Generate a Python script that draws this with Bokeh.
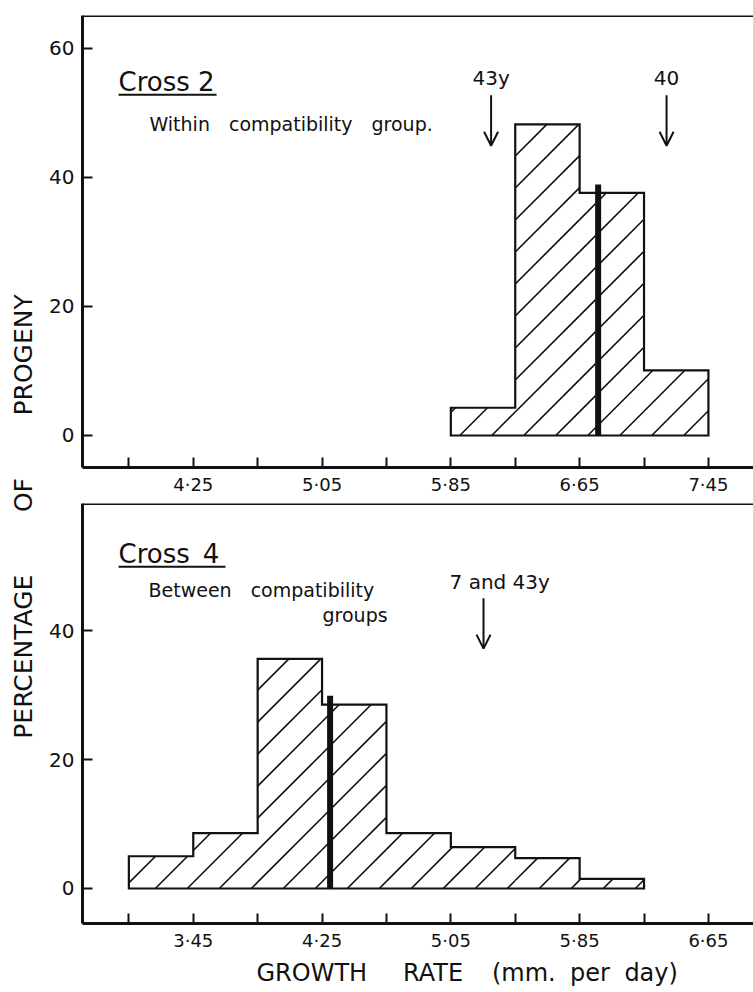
import math
from bokeh.plotting import figure
from bokeh.layouts import row, column
from bokeh.models import Range1d, FixedTicker, Span, Arrow, OpenHead, Title
from bokeh.core.properties import value
from bokeh.embed import file_html
from bokeh.resources import INLINE

FONT = "DejaVu Sans"
INK = "#111111"

# ---------------- data ----------------
# Cross 2 (within compatibility group)
cross2_edges = [5.85, 6.25, 6.65, 7.05, 7.45]
cross2_pct = [4.3, 48.2, 37.6, 10.1]
cross2_mean = 6.765
cross2_mean_top = 38.9
cross2_xticks = [4.25, 5.05, 5.85, 6.65, 7.45]
cross2_xlabels = ["4·25", "5·05", "5·85", "6·65", "7·45"]
cross2_minor = [3.85, 4.65, 5.45, 6.25, 7.05]
cross2_yticks = [0, 20, 40, 60]
cross2_arrow_x = [6.10, 7.19]
cross2_arrow_labels = ["43y", "40"]

# Cross 4 (between compatibility groups)
cross4_edges = [3.05, 3.45, 3.85, 4.25, 4.65, 5.05, 5.45, 5.85, 6.25]
cross4_pct = [5.0, 8.6, 35.6, 28.5, 8.6, 6.4, 4.7, 1.5]
cross4_mean = 4.30
cross4_mean_top = 29.9
cross4_xticks = [3.45, 4.25, 5.05, 5.85, 6.65]
cross4_xlabels = ["3·45", "4·25", "5·05", "5·85", "6·65"]
cross4_minor = [3.05, 3.85, 4.65, 5.45, 6.25]
cross4_yticks = [0, 20, 40]
cross4_arrow_x = [5.253]
cross4_arrow_labels = ["7 and 43y"]

Y_LABEL = "PERCENTAGE\u2003\u2003\u2002OF\u2003\u2003\u2002PROGENY"
X_LABEL = "GROWTH\u2003\u2002RATE\u2003\u2009(mm.\u2002\u200aper\u2002\u200aday)"

HATCH_PX = 32       # horizontal spacing of the "/" hatching, in pixels
BORDER_LEFT = 42


def outline(edges, vals):
    xs, ys = [edges[0]], [0]
    for i, v in enumerate(vals):
        xs += [edges[i], edges[i + 1]]
        ys += [v, v]
    xs.append(edges[-1])
    ys.append(0)
    return xs, ys


def hatch_segments(edges, vals, k, step):
    """45-degree (on screen) lines y = k (x - c), clipped to the histogram bins."""
    x0s, y0s, x1s, y1s = [], [], [], []
    hmax = max(vals)
    c = edges[0] - hmax / k
    while c < edges[-1]:
        for i, v in enumerate(vals):
            a, b = edges[i], edges[i + 1]
            xs = max(a, c)
            xe = min(b, c + v / k)
            if xe - xs > 1e-9:
                x0s.append(xs)
                y0s.append(k * (xs - c))
                x1s.append(xe)
                y1s.append(k * (xe - c))
        c += step
    return x0s, y0s, x1s, y1s


def make_panel(width, height, xr, yr, mb_top, mb_bottom, xticks, xlabels, minor, yticks):
    p = figure(width=width, height=height, x_range=Range1d(*xr), y_range=Range1d(*yr),
               toolbar_location=None, output_backend="svg",
               min_border_left=BORDER_LEFT, min_border_right=0, min_border_top=mb_top,
               min_border_bottom=mb_bottom)
    p.outline_line_color = None
    p.grid.visible = False
    p.background_fill_color = "white"
    p.border_fill_color = "white"
    for ax in (p.xaxis[0], p.yaxis[0]):
        ax.axis_line_width = 3
        ax.axis_line_color = INK
        ax.major_tick_in = 10
        ax.major_tick_out = 0
        ax.minor_tick_in = 10
        ax.minor_tick_out = 0
        ax.major_tick_line_width = 2
        ax.minor_tick_line_width = 2
        ax.major_tick_line_color = INK
        ax.minor_tick_line_color = INK
        ax.major_label_text_font = FONT
        ax.major_label_text_color = INK
    p.xaxis[0].ticker = FixedTicker(ticks=xticks, minor_ticks=minor)
    p.xaxis[0].major_label_overrides = {t: l for t, l in zip(xticks, xlabels)}
    p.xaxis[0].major_label_text_font_size = "18px"
    p.xaxis[0].major_label_standoff = 6
    p.yaxis[0].ticker = FixedTicker(ticks=yticks, minor_ticks=[])
    p.yaxis[0].major_label_text_font_size = "20px"
    p.yaxis[0].major_label_standoff = 8
    p.add_layout(Span(location=yr[1], dimension="width", line_color=INK, line_width=3))
    # pixel scales of the frame, for 45-degree hatching
    fw = width - BORDER_LEFT
    fh = height - mb_top - mb_bottom
    p._px_x = fw / (xr[1] - xr[0])
    p._px_y = fh / (yr[1] - yr[0])
    return p


def draw_hist(p, edges, vals, mean, mean_top):
    xs, ys = outline(edges, vals)
    p.patch(xs, ys, fill_color="white", line_color=None)
    k = p._px_x / p._px_y
    step = HATCH_PX / p._px_x
    x0, y0, x1, y1 = hatch_segments(edges, vals, k, step)
    p.segment(x0=x0, y0=y0, x1=x1, y1=y1, line_color=INK, line_width=1.6)
    p.patch(xs, ys, fill_color=None, line_color=INK, line_width=2.2, line_join="miter")
    p.segment(x0=[mean], y0=[0], x1=[mean], y1=[mean_top], line_color=INK, line_width=6)


def add_text(p, xs, ys, texts, size, align="left"):
    p.text(x=xs, y=ys, text=texts, text_font=value(FONT), text_font_size=size,
           text_align=align, text_baseline="alphabetic", text_color=INK)


def add_arrows(p, xs, y0, y1):
    for x in xs:
        p.add_layout(Arrow(end=OpenHead(size=14, line_width=2, line_color=INK),
                           x_start=x, y_start=y0, x_end=x, y_end=y1,
                           line_width=2, line_color=INK))


# ---------------- top panel: Cross 2 ----------------
top = make_panel(713, 498, (3.562, 7.730), (-4.96, 65.07), 15, 31,
                 cross2_xticks, cross2_xlabels, cross2_minor, cross2_yticks)
draw_hist(top, cross2_edges, cross2_pct, cross2_mean, cross2_mean_top)
add_text(top, [3.786], [54.8], ["Cross 2"], "26px")
top.segment(x0=[3.786], y0=[52.8], x1=[4.395], y1=[52.8], line_color=INK, line_width=2)
add_text(top, [3.978], [48.3], ["Within\u2003compatibility\u2003group."], "19px")
add_arrows(top, cross2_arrow_x, 52.7, 44.9)
add_text(top, cross2_arrow_x, [55.4, 55.4], cross2_arrow_labels, "20px", align="center")

# ---------------- bottom panel: Cross 4 ----------------
bot = make_panel(713, 494, (2.762, 6.930), (-5.43, 59.7), 5, 69,
                 cross4_xticks, cross4_xlabels, cross4_minor, cross4_yticks)
draw_hist(bot, cross4_edges, cross4_pct, cross4_mean, cross4_mean_top)
add_text(bot, [2.986], [51.86], ["Cross\u20024"], "26px")
bot.segment(x0=[2.986], y0=[49.9], x1=[3.650], y1=[49.9], line_color=INK, line_width=2)
add_text(bot, [3.172], [46.3], ["Between\u2003compatibility"], "19px")
add_text(bot, [4.253], [42.4], ["groups"], "19px")
add_arrows(bot, cross4_arrow_x, 45.0, 37.2)
add_text(bot, [5.042], [47.5], cross4_arrow_labels, "20px")
xt = Title(text=X_LABEL, align="left", offset=174, text_font=FONT, text_font_size="24px",
           text_font_style="normal", text_color=INK, standoff=6)
bot.add_layout(xt, "below")

# ---------------- shared y label ----------------
ylab = figure(width=40, height=992, x_range=Range1d(0, 40), y_range=Range1d(0, 992),
              toolbar_location=None, output_backend="svg", min_border=0)
ylab.axis.visible = False
ylab.grid.visible = False
ylab.outline_line_color = None
ylab.text(x=[22.5], y=[476], text=[Y_LABEL], angle=math.pi / 2, text_font=value(FONT),
          text_font_size="25px", text_align="center", text_baseline="alphabetic",
          text_color=INK)

layout = row(ylab, column(top, bot, spacing=0), spacing=0)
open("out.html", "w").write(file_html(layout, INLINE))
